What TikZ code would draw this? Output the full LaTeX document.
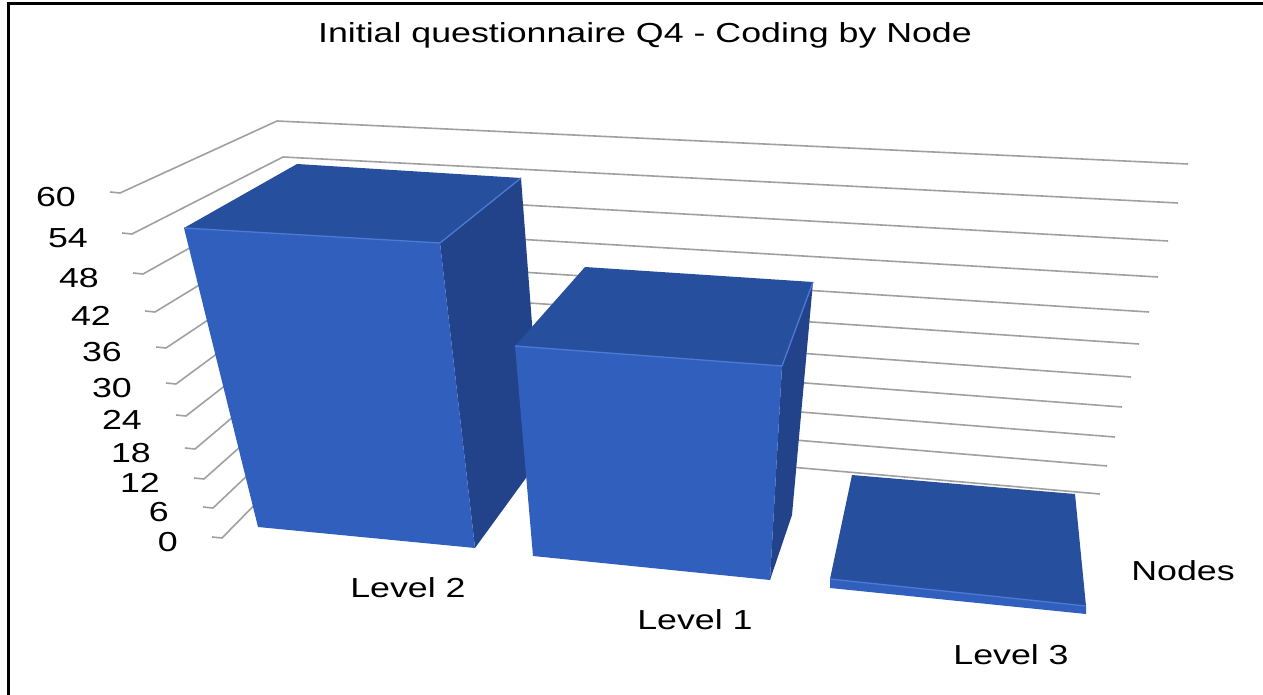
\documentclass[tikz,border=0pt]{standalone}
\usepackage{fontspec}
\setmainfont[FakeStretch=1.3]{Liberation Sans}
\definecolor{barfront}{RGB}{48,95,190}
\definecolor{bartop}{RGB}{38,79,157}
\definecolor{barside}{RGB}{34,67,137}
\definecolor{barlight}{RGB}{76,122,214}
\definecolor{gridgray}{RGB}{160,160,160}

\begin{document}
\begin{tikzpicture}
[x=1pt,y=-1pt,%
  grid/.style={gridgray,line width=1.6pt,line join=round},%
  frontface/.style={fill=barfront},%
  topface/.style={fill=bartop},%
  sideface/.style={fill=barside},%
  litedge/.style={barlight,line width=1.3pt},%
  every node/.style={inner sep=0pt,font=\fontsize{27.5}{32}\selectfont}]
\useasboundingbox (0,0) rectangle (1263,695);
% frame
\draw[line width=3pt] (8.5,695) -- (8.5,4) -- (1263,4);
\node (title) at (645,35) {Initial questionnaire Q4 - Coding by Node};
% walls and value axis
\foreach \v/\tx/\ty/\cx/\cy/\rx/\ry in
  {60/110/192/277/121/1188/164, 54/122/233/283/157/1178/203,
   48/133/273/290/192/1168/241, 42/145/311/296/226/1158/277,
   36/156/347/301/258/1149/312, 30/166/383/306/288/1139/344,
   24/176/415/312/318/1131/377, 18/185/448/317/346/1122/407,
   12/194/478/322/374/1115/437, 6/203/507/326/401/1107/466,
   0/212/537/331/427/1100/494}
{
  \coordinate (t\v) at (\tx,\ty);
  \coordinate (c\v) at (\cx,\cy);
  \coordinate (r\v) at (\rx,\ry);
  \draw[grid] (t\v) -- ++(10,1) -- (c\v) -- (r\v);
  \node[anchor=east] (lab\v) at ([xshift=-34pt,yshift=-5pt]t\v) {\v};
}
% Level 2
\path (184,228) coordinate (twoA) (440,243) coordinate (twoB)
      (475,548) coordinate (twoC) (258,527) coordinate (twoD)
      (297,164) coordinate (twoE) (521,178) coordinate (twoF)
      (542,456) coordinate (twoG);
\fill[sideface] (twoB) -- (twoF) -- (twoG) -- (twoC) -- cycle;
\fill[topface] (twoA) -- (twoE) -- (twoF) -- (twoB) -- cycle;
\fill[frontface] (twoA) -- (twoB) -- (twoC) -- (twoD) -- cycle;
\draw[litedge] (twoA) -- (twoB) -- (twoF);
% Level 1
\path (515,346) coordinate (oneA) (782,366) coordinate (oneB)
      (770,580) coordinate (oneC) (533,556) coordinate (oneD)
      (585,267) coordinate (oneE) (813,282) coordinate (oneF)
      (792,515) coordinate (oneG);
\fill[sideface] (oneB) -- (oneF) -- (oneG) -- (oneC) -- cycle;
\fill[topface] (oneA) -- (oneE) -- (oneF) -- (oneB) -- cycle;
\fill[frontface] (oneA) -- (oneB) -- (oneC) -- (oneD) -- cycle;
\draw[litedge] (oneA) -- (oneB) -- (oneF);
% Level 3
\path (830,579) coordinate (threeA) (1086,606) coordinate (threeB)
      (1086,614) coordinate (threeC) (830,588) coordinate (threeD)
      (852,475) coordinate (threeE) (1075,494) coordinate (threeF);
\fill[topface] (threeA) -- (threeE) -- (threeF) -- (threeB) -- cycle;
\fill[frontface] (threeA) -- (threeB) -- (threeC) -- (threeD) -- cycle;
\draw[litedge] (threeA) -- (threeB);
% category labels
\node (lvtwo) at (408,588) {Level 2};
\node (lvone) at (695,620) {Level 1};
\node (lvthree) at (1011,655) {Level 3};
\node (axname) at (1183,571) {Nodes};
\end{tikzpicture}
\end{document}
